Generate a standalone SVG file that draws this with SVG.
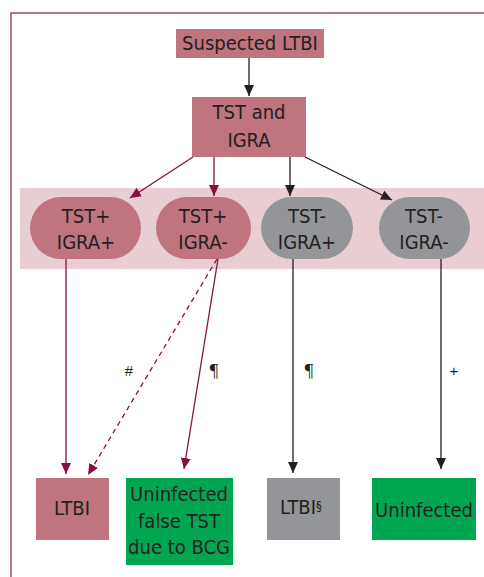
<svg xmlns="http://www.w3.org/2000/svg" width="484" height="577" viewBox="0 0 484 577">
<defs>
<style>
.t{font-family:"DejaVu Sans Condensed","DejaVu Sans",sans-serif;font-stretch:condensed;font-size:20px;fill:#231f20;text-anchor:middle}
.s{font-family:"Liberation Sans",sans-serif;font-size:15px;fill:#231f20;text-anchor:middle}
.p{font-family:"Liberation Serif",serif;font-size:19px;fill:#231f20;text-anchor:middle}
.pk{fill:#bf7480}
.gy{fill:#939598}
.gr{fill:#00a651}
.lp{stroke:#8b0d43;stroke-width:1.3;fill:none}
.lb{stroke:#231f20;stroke-width:1.3;fill:none}
</style>
<marker id="ap" markerUnits="userSpaceOnUse" markerWidth="12" markerHeight="12" viewBox="0 0 12 12" refX="11" refY="6" orient="auto"><path d="M0,1 L11,6 L0,11 Z" fill="#8b0d43"/></marker>
<marker id="ab" markerUnits="userSpaceOnUse" markerWidth="12" markerHeight="12" viewBox="0 0 12 12" refX="11" refY="6" orient="auto"><path d="M0,1 L11,6 L0,11 Z" fill="#231f20"/></marker>
</defs>
<rect width="484" height="577" fill="#fff"/>
<path d="M11,577 V13 H484" fill="none" stroke="#a34a72" stroke-width="1.5"/>
<rect x="20" y="188" width="464" height="81" fill="#e8cdd2"/>

<g id="suspected"><rect class="pk" x="176" y="29" width="148" height="29"/><text class="t" x="250" y="50">Suspected LTBI</text></g>
<g id="tstigra"><rect class="pk" x="192" y="97" width="114" height="60"/><text class="t" x="249" y="119">TST and</text><text class="t" x="249" y="147">IGRA</text></g>
<g id="pp"><rect class="pk" x="30" y="197" width="111" height="62" rx="31"/><text class="t" x="86" y="223">TST+</text><text class="t" x="86" y="249">IGRA+</text></g>
<g id="pm"><rect class="pk" x="156" y="197" width="95" height="62" rx="31"/><text class="t" x="203" y="223">TST+</text><text class="t" x="203" y="249">IGRA-</text></g>
<g id="mp"><rect class="gy" x="261" y="197" width="92" height="62" rx="31"/><text class="t" x="307" y="223">TST-</text><text class="t" x="307" y="249">IGRA+</text></g>
<g id="mm"><rect class="gy" x="379" y="197" width="91" height="62" rx="31"/><text class="t" x="424" y="223">TST-</text><text class="t" x="424" y="249">IGRA-</text></g>
<g id="ltbi"><rect class="pk" x="36" y="478" width="73" height="62"/><text class="t" x="72" y="515">LTBI</text></g>
<g id="bcg"><rect class="gr" x="126" y="478" width="107" height="87"/><text class="t" x="179" y="501">Uninfected</text><text class="t" x="179" y="528">false TST</text><text class="t" x="179" y="554">due to BCG</text></g>
<g id="ltbis"><rect class="gy" x="267" y="478" width="73" height="62"/><text class="t" x="301" y="514">LTBI<tspan font-size="13" dy="-4">§</tspan></text></g>
<g id="uninf"><rect class="gr" x="372" y="478" width="104" height="62"/><text class="t" x="424" y="517">Uninfected</text></g>

<g id="connectors">
<line class="lb" x1="249" y1="58" x2="249" y2="96" marker-end="url(#ab)"/>
<line class="lp" x1="193" y1="157" x2="130" y2="198" marker-end="url(#ap)"/>
<line class="lp" x1="214" y1="157" x2="214" y2="196" marker-end="url(#ap)"/>
<line class="lb" x1="290" y1="157" x2="290" y2="196" marker-end="url(#ab)"/>
<line class="lb" x1="305" y1="157" x2="392" y2="200" marker-end="url(#ab)"/>
<line class="lp" x1="66" y1="259" x2="66" y2="474" marker-end="url(#ap)"/>
<line class="lp" x1="217" y1="259" x2="88" y2="475" stroke-dasharray="5,4" marker-end="url(#ap)"/>
<line class="lp" x1="218" y1="259" x2="184" y2="469" marker-end="url(#ap)"/>
<line class="lb" x1="293" y1="259" x2="293" y2="473" marker-end="url(#ab)"/>
<line class="lb" x1="441" y1="259" x2="441" y2="469" marker-end="url(#ab)"/>
</g>
<text class="s" x="129" y="376">#</text>
<text class="p" x="214" y="377">¶</text>
<text class="p" x="309" y="377">¶</text>
<text class="s" x="454" y="376">+</text>
</svg>
